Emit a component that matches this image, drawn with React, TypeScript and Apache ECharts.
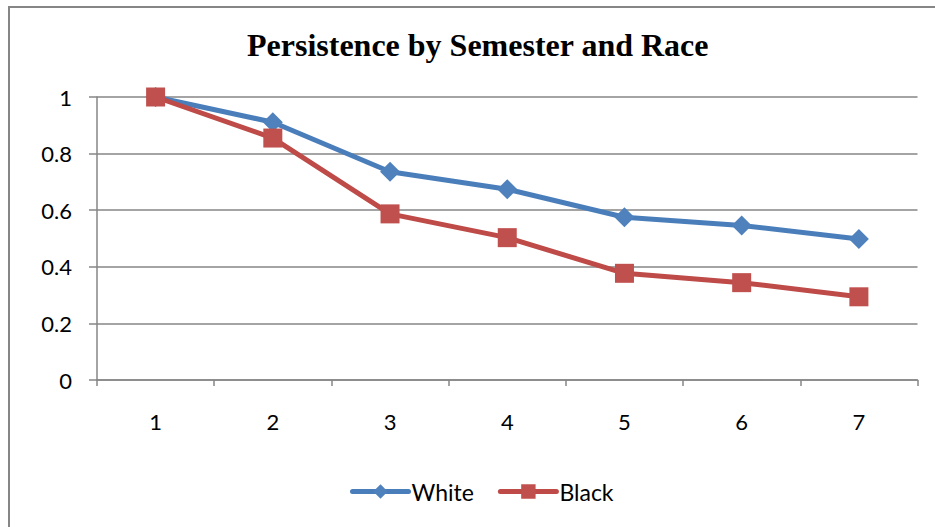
import React, { useEffect, useRef } from "react";
import * as echarts from "echarts";

const categories = ["1", "2", "3", "4", "5", "6", "7"];
const whiteValues = [1.0, 0.911, 0.736, 0.674, 0.575, 0.546, 0.498];
const blackValues = [1.0, 0.855, 0.587, 0.503, 0.377, 0.344, 0.294];
const seriesNames = ["White", "Black"];
const titleText = "Persistence by Semester and Race";

export default function App() {
  const ref = useRef<HTMLDivElement>(null);
  useEffect(() => {
    const chart = echarts.init(ref.current!, undefined, { renderer: "svg" });
    const gray = "#868686";
    const labelFont = "Lato";
    chart.setOption({
      animation: false,
      backgroundColor: "#ffffff",
      graphic: [
        {
          type: "rect",
          shape: { x: 9, y: 7, width: 940, height: 540 },
          style: { fill: "none", stroke: gray, lineWidth: 2 },
          z: 0,
        },
      ],
      title: {
        text: titleText,
        left: 247,
        top: 29,
        padding: 0,
        textStyle: {
          fontFamily: "Liberation Serif",
          fontWeight: "bold",
          fontSize: 32,
          color: "#000",
        },
      },
      legend: {
        left: 350,
        top: 480,
        padding: 0,
        itemWidth: 56,
        itemHeight: 18,
        itemGap: 24,
        data: seriesNames,
        lineStyle: { width: 5, cap: "round" },
        textStyle: { fontFamily: labelFont, fontSize: 23, color: "#000", padding: [0, 0, 0, -2] },
      },
      grid: { left: 97, top: 97, right: 17.5, bottom: 147, containLabel: false },
      xAxis: {
        type: "category",
        data: categories,
        boundaryGap: true,
        axisLine: { lineStyle: { color: gray, width: 1.5 } },
        axisTick: { show: true, length: 6, lineStyle: { color: gray, width: 1.5 } },
        axisLabel: { margin: 30, fontFamily: labelFont, fontSize: 22, color: "#000" },
        splitLine: { show: false },
      },
      yAxis: {
        type: "value",
        min: 0,
        max: 1,
        interval: 0.2,
        axisLine: { show: true, lineStyle: { color: gray, width: 1.5 } },
        axisTick: { show: true, length: 8, lineStyle: { color: gray, width: 1.5 } },
        axisLabel: { margin: 25, fontFamily: labelFont, fontSize: 22, color: "#000" },
        splitLine: { show: true, lineStyle: { color: gray, width: 1.5 } },
      },
      series: [
        {
          name: seriesNames[0],
          type: "line",
          data: whiteValues,
          symbol: "diamond",
          symbolSize: 20,
          color: "#4F81BD",
          lineStyle: { color: "#4A7EBB", width: 5 },
          itemStyle: { color: "#4F81BD" },
          z: 3,
        },
        {
          name: seriesNames[1],
          type: "line",
          data: blackValues,
          symbol: "rect",
          symbolSize: 19,
          color: "#C0504D",
          lineStyle: { color: "#BE4B48", width: 5 },
          itemStyle: { color: "#C0504D" },
          z: 4,
        },
      ],
    });
    return () => chart.dispose();
  }, []);
  return (
    <div
      ref={ref}
      style={{ position: "fixed", left: 0, top: 0, width: 935, height: 527 }}
    />
  );
}
